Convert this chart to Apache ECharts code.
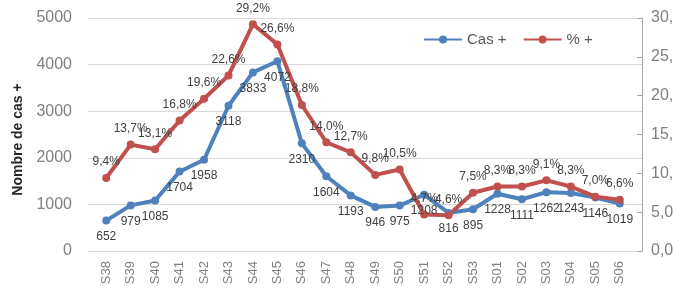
<!DOCTYPE html>
<html>
<head>
<meta charset="utf-8">
<script src="https://cdn.jsdelivr.net/npm/echarts@6/dist/echarts.min.js"></script>
<style>
html,body{margin:0;padding:0;background:#fff;}
#chart{width:673px;height:292px;}
</style>
</head>
<body>
<div id="chart"></div>
<script>
const categories = ['S38','S39','S40','S41','S42','S43','S44','S45','S46','S47','S48','S49','S50','S51','S52','S53','S01','S02','S03','S04','S05','S06'];
const casValues = [652, 979, 1085, 1704, 1958, 3118, 3833, 4072, 2310, 1604, 1193, 946, 975, 1208, 816, 895, 1228, 1111, 1262, 1243, 1146, 1019];
const pctValues = [9.4, 13.7, 13.1, 16.8, 19.6, 22.6, 29.2, 26.6, 18.8, 14.0, 12.7, 9.8, 10.5, 4.7, 4.6, 7.5, 8.3, 8.3, 9.1, 8.3, 7.0, 6.6];
const leftTicks = {min: 0, max: 5000, interval: 1000};
const rightTicks = {min: 0, max: 30, interval: 5};

const fmtPct = v => v.toFixed(1).replace('.', ',') + '%';
const BLUE = '#4f81bd', RED = '#c0504d';
const FONT = 'Liberation Sans';

const chart = echarts.init(document.getElementById('chart'));
chart.setOption({
  animation: false,
  textStyle: {fontFamily: FONT},
  legend: {
    left: 418, top: 27,
    itemWidth: 38, itemHeight: 10, itemGap: 16,
    textStyle: {fontSize: 15, color: '#595959', fontFamily: FONT},
    data: ['Cas +', '% +']
  },
  grid: [
    {left: 88, right: 31, top: 18, bottom: 41, outerBoundsMode: 'none', containLabel: false},
    {left: 94, right: 41, top: 18, bottom: 41, outerBoundsMode: 'none', containLabel: false}
  ],
  xAxis: [
    {gridIndex: 0, type: 'category', data: categories, show: false},
    {gridIndex: 1, type: 'category', data: categories, boundaryGap: true,
     axisLine: {show: false}, axisTick: {show: false},
     axisLabel: {rotate: 90, margin: 10, fontSize: 13, color: '#7f7f7f', interval: 0}}
  ],
  yAxis: [
    {gridIndex: 0, type: 'value', position: 'left', ...leftTicks,
     name: 'Nombre de cas +', nameLocation: 'middle', nameGap: 62,
     nameTextStyle: {fontSize: 14, fontWeight: 'bold', color: '#262626', padding: [0, 10, 0, 0]},
     axisLine: {show: false}, axisTick: {show: false},
     axisLabel: {margin: 16, fontSize: 16, color: '#7f7f7f', formatter: v => String(v)},
     splitLine: {lineStyle: {color: '#d9d9d9', width: 1}}},
    {gridIndex: 0, type: 'value', position: 'right', ...rightTicks,
     axisLine: {show: true, lineStyle: {color: '#a6a6a6'}},
     axisTick: {show: true, inside: true, length: 5, lineStyle: {color: '#a6a6a6'}},
     axisLabel: {margin: 9, fontSize: 16, color: '#7f7f7f', formatter: fmtPct},
     splitLine: {show: false}},
    {gridIndex: 1, type: 'value', ...leftTicks, show: false, splitLine: {show: false}},
    {gridIndex: 1, type: 'value', ...rightTicks, show: false, splitLine: {show: false}}
  ],
  series: [
    {name: 'Cas +', type: 'line', xAxisIndex: 1, yAxisIndex: 2, data: casValues,
     color: BLUE, symbol: 'circle', symbolSize: 8,
     lineStyle: {width: 4, color: BLUE}, itemStyle: {color: BLUE},
     label: {show: true, position: 'bottom', distance: 6, fontSize: 12, color: '#404040'}},
    {name: '% +', type: 'line', xAxisIndex: 1, yAxisIndex: 3, data: pctValues,
     color: RED, symbol: 'circle', symbolSize: 8,
     lineStyle: {width: 4, color: RED}, itemStyle: {color: RED},
     label: {show: true, position: 'top', distance: 6, fontSize: 12, color: '#404040',
             formatter: p => fmtPct(p.value)}}
  ]
});
</script>
</body>
</html>
